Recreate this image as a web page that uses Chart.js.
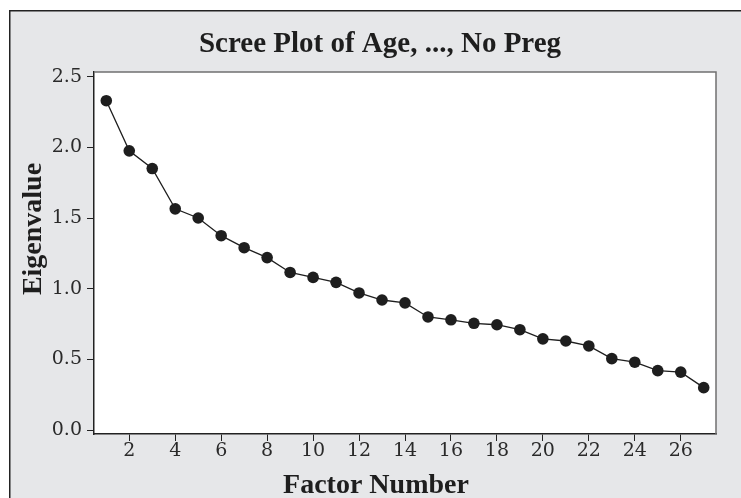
<!DOCTYPE html>
<html>
<head>
<meta charset="utf-8">
<script src="https://cdn.jsdelivr.net/npm/chart.js@4"></script>
<style>
    html, body { margin: 0; padding: 0; background: #fff; }
    #wrap { position: absolute; left: 0; top: 0; width: 741px; height: 498px; }
</style>
</head>
<body>
<div id="wrap"><canvas id="screeChart" width="741" height="498"></canvas></div>
<script>
// Chart data
const chartTitle = 'Scree Plot of Age, ..., No Preg';
const xTitle = 'Factor Number';
const yTitle = 'Eigenvalue';
const factorNumbers = [1, 2, 3, 4, 5, 6, 7, 8, 9, 10, 11, 12, 13, 14, 15, 16, 17, 18, 19, 20, 21, 22, 23, 24, 25, 26, 27];
const eigenvalues = [2.33, 1.975, 1.85, 1.565, 1.50, 1.375, 1.29, 1.22, 1.115, 1.08, 1.045, 0.97, 0.92, 0.90,
    0.80, 0.78, 0.755, 0.745, 0.71, 0.645, 0.63, 0.595, 0.505, 0.48, 0.42, 0.41, 0.30];
const xTicks = [2, 4, 6, 8, 10, 12, 14, 16, 18, 20, 22, 24, 26];
const yTicks = [0.0, 0.5, 1.0, 1.5, 2.0, 2.5];

const panelGray = '#e6e7e9';
const ink = '#1e1e1e';

// Gray panel, white plot area, frame and titles
const backdrop = {
    id: 'backdrop',
    beforeDraw(chart) {
        const ctx = chart.ctx;
        const area = chart.chartArea;
        ctx.save();
        ctx.fillStyle = '#fff';
        ctx.fillRect(0, 0, chart.width, chart.height);
        ctx.fillStyle = panelGray;
        ctx.fillRect(9, 10, chart.width - 9, chart.height - 10);
        ctx.strokeStyle = '#222';
        ctx.lineWidth = 1.5;
        ctx.beginPath();
        ctx.moveTo(9.75, chart.height);
        ctx.lineTo(9.75, 10.75);
        ctx.lineTo(chart.width, 10.75);
        ctx.stroke();
        ctx.fillStyle = '#fff';
        ctx.fillRect(area.left, area.top, area.right - area.left, area.bottom - area.top);
        ctx.restore();
    },
    beforeDatasetsDraw(chart) {
        const ctx = chart.ctx;
        const area = chart.chartArea;
        ctx.save();
        ctx.strokeStyle = '#707070';
        ctx.lineWidth = 1.5;
        ctx.beginPath();
        ctx.moveTo(area.left, area.top);
        ctx.lineTo(area.right, area.top);
        ctx.lineTo(area.right, area.bottom);
        ctx.stroke();
        ctx.restore();
    },
    afterDraw(chart) {
        const ctx = chart.ctx;
        ctx.save();
        ctx.fillStyle = ink;
        ctx.textAlign = 'center';
        ctx.textBaseline = 'alphabetic';
        ctx.font = 'bold 29px "Liberation Serif", "Times New Roman", serif';
        ctx.fillText(chartTitle, 380, 52);
        ctx.font = 'bold 28px "Liberation Serif", "Times New Roman", serif';
        ctx.fillText(xTitle, 376, 493);
        ctx.translate(41, 229);
        ctx.rotate(-Math.PI / 2);
        ctx.fillText(yTitle, 0, 0);
        ctx.restore();
    }
};

const tickFont = { family: '"DejaVu Serif", serif', size: 19 };

new Chart(document.getElementById('screeChart'), {
    type: 'scatter',
    data: {
        datasets: [{
            data: factorNumbers.map((f, i) => ({ x: f, y: eigenvalues[i] })),
            showLine: true,
            borderColor: ink,
            borderWidth: 1.3,
            backgroundColor: ink,
            pointBackgroundColor: ink,
            pointBorderColor: ink,
            pointBorderWidth: 0,
            pointRadius: 5.8
        }]
    },
    options: {
        responsive: false,
        animation: false,
        layout: { padding: { left: 0, top: 72, right: 25, bottom: 0 } },
        plugins: {
            legend: { display: false },
            tooltip: { enabled: false }
        },
        scales: {
            x: {
                type: 'linear',
                min: 0.465,
                max: 27.535,
                afterFit: (scale) => { scale.height = 64; },
                afterBuildTicks: (scale) => { scale.ticks = xTicks.map(v => ({ value: v })); },
                grid: { drawOnChartArea: false, drawTicks: true, tickLength: 7, color: '#222', lineWidth: 1 },
                border: { display: true, color: '#222', width: 1.5 },
                ticks: {
                    autoSkip: false,
                    maxRotation: 0,
                    padding: -1,
                    color: '#2a2a2a',
                    font: tickFont
                }
            },
            y: {
                min: -0.028,
                max: 2.533,
                afterFit: (scale) => { scale.width = 94; },
                afterBuildTicks: (scale) => { scale.ticks = yTicks.map(v => ({ value: v })); },
                grid: { drawOnChartArea: false, drawTicks: true, tickLength: 7, color: '#222', lineWidth: 1 },
                border: { display: true, color: '#222', width: 1.5 },
                ticks: {
                    padding: 5,
                    color: '#2a2a2a',
                    font: tickFont,
                    callback: (value) => Number(value).toFixed(1)
                }
            }
        }
    },
    plugins: [backdrop]
});
</script>
</body>
</html>
